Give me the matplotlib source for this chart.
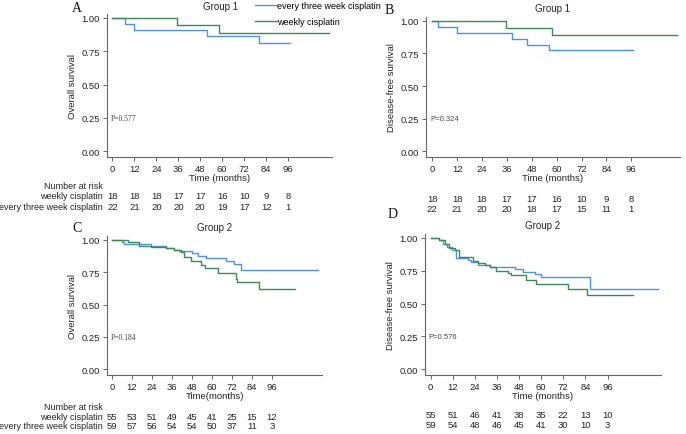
import matplotlib
matplotlib.use('Agg')

import matplotlib.pyplot as plt
import matplotlib.transforms as mtransforms
from matplotlib.lines import Line2D

plt.rcParams['font.family'] = ['Liberation Sans', 'DejaVu Sans']

BLUE = '#4f93e0'
GREEN = '#3b8a55'
GREY = '#666666'

# months shown on the x axis
x_ticks = [0, 12, 24, 36, 48, 60, 72, 84, 96]

# Panel A: overall survival, group 1
a_blue_t = [0, 6.6, 11.7, 51.7, 80, 97]
a_blue_s = [1.0, 0.955, 0.909, 0.864, 0.81, 0.81]
a_green_t = [0, 35.4, 58, 118.6]
a_green_s = [1.0, 0.944, 0.889, 0.889]

# Panel B: disease-free survival, group 1
b_blue_t = [0, 2.6, 11.9, 38.7, 45.9, 56.5, 97]
b_blue_s = [1.0, 0.955, 0.909, 0.864, 0.818, 0.773, 0.773]
b_green_t = [0, 35.5, 57.8, 118]
b_green_s = [1.0, 0.944, 0.889, 0.889]

# Panel C: overall survival, group 2
c_blue_t = [0, 6, 7, 23.3, 32.4, 36.9, 40.4, 47.8, 51.5, 56.5, 68.6, 73.2, 77.6, 123.4]
c_blue_s = [1.0, 0.983, 0.966, 0.949, 0.937, 0.925, 0.917, 0.899, 0.879, 0.861, 0.84, 0.81, 0.765, 0.765]
c_green_t = [0, 9.6, 16.3, 23.3, 32.4, 37, 41.4, 43, 47.4, 53.5, 56, 63.5, 74.2, 75, 88, 110]
c_green_s = [1.0, 0.982, 0.955, 0.947, 0.937, 0.925, 0.904, 0.871, 0.84, 0.803, 0.783, 0.74, 0.70, 0.672, 0.622, 0.622]

# Panel D: disease-free survival, group 2
d_blue_t = [0, 4.7, 6.8, 9, 11.4, 14, 20.4, 22.2, 25.8, 32, 45.6, 50, 56.4, 60, 86.5, 123.6]
d_blue_s = [1.0, 0.983, 0.957, 0.932, 0.907, 0.85, 0.832, 0.814, 0.795, 0.782, 0.764, 0.744, 0.724, 0.699, 0.607, 0.607]
d_green_t = [0, 4.7, 7.7, 10, 13, 15.5, 23, 25.8, 29.4, 32, 35.7, 42, 43.8, 51.9, 57.3, 74.4, 84.7, 110]
d_green_s = [1.0, 0.983, 0.95, 0.925, 0.905, 0.857, 0.825, 0.81, 0.795, 0.782, 0.75, 0.732, 0.715, 0.682, 0.652, 0.614, 0.565, 0.565]

# number at risk tables
a_risk_weekly = [18, 18, 18, 17, 17, 16, 10, 9, 8]
a_risk_three = [22, 21, 20, 20, 20, 19, 17, 12, 1]
b_risk_weekly = [18, 18, 18, 17, 17, 16, 10, 9, 8]
b_risk_three = [22, 21, 20, 20, 18, 17, 15, 11, 1]
c_risk_weekly = [55, 53, 51, 49, 45, 41, 25, 15, 12]
c_risk_three = [59, 57, 56, 54, 54, 50, 37, 11, 3]
d_risk_weekly = [55, 51, 46, 41, 38, 35, 22, 13, 10]
d_risk_three = [59, 54, 48, 46, 45, 41, 30, 10, 3]

W, H = 686, 435
fig = plt.figure(figsize=(W / 100, H / 100), dpi=100)


def px_axes(left, top, right, bottom):
    return fig.add_axes([left / W, 1 - bottom / H, (right - left) / W, (bottom - top) / H])


def km_panel(ax, blue, green, xmax, ylabel, xlabel, title, pval, serif_p):
    ax.step(blue[0], blue[1], where='post', color=BLUE, lw=1.0)
    ax.step(green[0], green[1], where='post', color=GREEN, lw=1.0)
    ax.set_xlim(-3, xmax)
    ax.set_ylim(-0.045, 1.03)
    ax.set_xticks(x_ticks)
    ax.set_yticks([0, 0.25, 0.5, 0.75, 1.0])
    ax.set_yticklabels(['0.00', '0.25', '0.50', '0.75', '1.00'])
    for side in ['top', 'right']:
        ax.spines[side].set_visible(False)
    for side in ['left', 'bottom']:
        ax.spines[side].set_color(GREY)
        ax.spines[side].set_linewidth(0.8)
    ax.tick_params(colors=GREY, labelcolor='#222222', labelsize=6.8, length=3, width=0.7, pad=2)
    ax.set_ylabel(ylabel, fontsize=6.8, color='#222222', labelpad=3)
    ax.set_xlabel(xlabel, fontsize=6.8, color='#222222', labelpad=0)
    ax.set_title(title, fontsize=7, color='#222222', pad=4)
    if serif_p:
        ax.text(-1, 0.25, pval, fontsize=5.5, family='Liberation Serif', color='#444444', va='center')
    else:
        ax.text(-1, 0.25, pval, fontsize=5.5, color='#444444', va='center')


def risk_table(ax, weekly, three, y_rows, labels):
    tr = mtransforms.blended_transform_factory(ax.transData, fig.transFigure)
    for x, n1, n2 in zip(x_ticks, weekly, three):
        ax.text(x, 1 - y_rows[1] / H, str(n1), transform=tr, ha='center', va='center', fontsize=6.8, color='#222222')
        ax.text(x, 1 - y_rows[2] / H, str(n2), transform=tr, ha='center', va='center', fontsize=6.8, color='#222222')
    if labels:
        names = ['Number at risk', 'weekly cisplatin', 'every three week cisplatin']
        for name, y in zip(names, y_rows):
            fig.text(103 / W, 1 - y / H, name, ha='right', va='center', fontsize=6.5, color='#222222')


ax_a = px_axes(107, 15, 332, 158)
km_panel(ax_a, (a_blue_t, a_blue_s), (a_green_t, a_green_s), 120,
         'Overall survival', 'Time (months)', 'Group 1', 'P=0.577', True)
ax_a.title.set_visible(False)
fig.text(221 / W, 1 - 7 / H, 'Group 1', ha='center', va='center', fontsize=7, color='#222222')
risk_table(ax_a, a_risk_weekly, a_risk_three, [187, 197, 207], True)

ax_b = px_axes(426, 18, 680, 158)
km_panel(ax_b, (b_blue_t, b_blue_s), (b_green_t, b_green_s), 119.5,
         'Disease-free survival', 'Time (months)', 'Group 1', 'P=0.324', False)
risk_table(ax_b, b_risk_weekly, b_risk_three, [190, 200, 210], False)

ax_c = px_axes(107, 237, 322, 376)
km_panel(ax_c, (c_blue_t, c_blue_s), (c_green_t, c_green_s), 126,
         'Overall survival', 'Time(months)', 'Group 2', 'P=0.184', True)
risk_table(ax_c, c_risk_weekly, c_risk_three, [408, 418, 427], True)

ax_d = px_axes(425, 235, 661, 376)
km_panel(ax_d, (d_blue_t, d_blue_s), (d_green_t, d_green_s), 125,
         'Disease-free survival', 'Time (months)', 'Group 2', 'P=0.576', False)
risk_table(ax_d, d_risk_weekly, d_risk_three, [406, 416, 426], False)

# legend for the whole figure
handles = [Line2D([], [], color=BLUE, lw=1.0), Line2D([], [], color=GREEN, lw=1.0)]
fig.legend(handles, ['every three week cisplatin', 'weekly cisplatin'],
           loc='upper left', bbox_to_anchor=(254 / W, 1 - 1 / H), frameon=False,
           fontsize=6.5, handlelength=2.5, handletextpad=0.0, labelspacing=0.75,
           borderpad=0.1, borderaxespad=0)

# panel letters
for letter, x, y in [('A', 77, 9), ('B', 389, 11), ('C', 77, 228), ('D', 393, 215)]:
    fig.text(x / W, 1 - y / H, letter, ha='center', va='center', fontsize=10,
             family='Liberation Serif', color='#111111')

fig.savefig('out.png', dpi=100)
